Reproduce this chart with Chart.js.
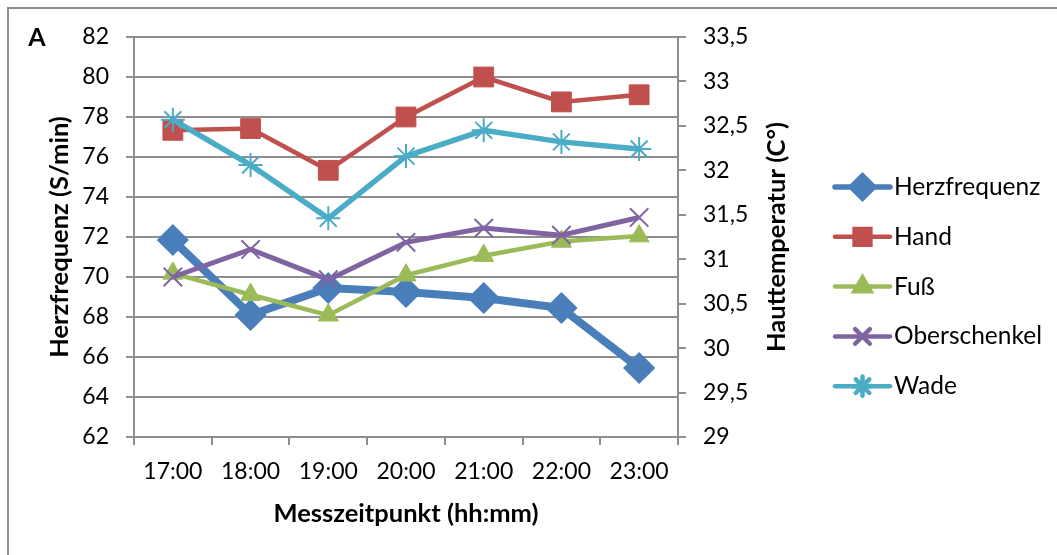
<!DOCTYPE html>
<html lang="de">
<head>
<meta charset="utf-8">
<title>Herzfrequenz und Hauttemperatur</title>
<script src="https://cdn.jsdelivr.net/npm/chart.js@4/dist/chart.umd.min.js"></script>
<style>
  html, body { margin: 0; padding: 0; background: #fff; }
  #wrap { width: 1057px; height: 555px; position: relative; }
</style>
</head>
<body>
<div id="wrap"><canvas id="chart"></canvas></div>
<script>
// Messzeitpunkte und Messwerte
const zeitpunkte = ['17:00', '18:00', '19:00', '20:00', '21:00', '22:00', '23:00'];
const herzfrequenz = [71.85, 68.1, 69.45, 69.25, 68.95, 68.45, 65.45];   // S/min, linke Achse
const hand = [32.45, 32.47, 32.0, 32.6, 33.05, 32.77, 32.85];            // °C, rechte Achse
const fuss = [30.84, 30.6, 30.37, 30.82, 31.04, 31.2, 31.26];
const oberschenkel = [30.8, 31.11, 30.77, 31.19, 31.35, 31.27, 31.47];
const wade = [32.57, 32.06, 31.46, 32.16, 32.45, 32.32, 32.24];

// Achsenbereiche
const hfMin = 62, hfMax = 82, hfStep = 2;
const tempMin = 29, tempMax = 33.5, tempStep = 0.5;

const FAMILY = 'Lato, "Open Sans", sans-serif';
const GRID = '#8e8e8e';

// Rahmen, Panelbuchstabe, rechter Achsentitel und Legende
const chartDecor = {
    id: 'chartDecor',
    beforeDraw(chart) {
        const ctx = chart.ctx;
        ctx.save();
        ctx.fillStyle = '#fff';
        ctx.fillRect(0, 0, chart.width, chart.height);
        ctx.strokeStyle = GRID;
        ctx.lineWidth = 2;
        ctx.strokeRect(8, 8, chart.width + 20, chart.height + 20);
        ctx.restore();
    },
    afterDraw(chart) {
        const ctx = chart.ctx;
        const area = chart.chartArea;
        ctx.save();
        ctx.fillStyle = '#000';
        ctx.textAlign = 'center';
        ctx.textBaseline = 'middle';
        ctx.font = 'bold 25px ' + FAMILY;
        ctx.fillText('A', 37, 38);

        ctx.translate(777, (area.top + area.bottom) / 2);
        ctx.rotate(-Math.PI / 2);
        ctx.font = 'bold 25.5px ' + FAMILY;
        ctx.fillText('Hauttemperatur (C°)', 0, 0);
        ctx.restore();

        // Legende: Linie mit Markierung, daneben der Name
        const x0 = 835, x1 = 890, top = 187, gap = 49.8;
        chart.data.datasets.forEach((ds, i) => {
            const y = top + i * gap;
            ctx.save();
            ctx.strokeStyle = ds.borderColor;
            ctx.fillStyle = ds.pointBackgroundColor;
            ctx.lineCap = 'round';
            ctx.lineWidth = i === 0 ? 5.5 : 4.5;
            ctx.beginPath();
            ctx.moveTo(x0, y);
            ctx.lineTo(x1, y);
            ctx.stroke();
            ctx.strokeStyle = ds.pointBorderColor;
            Chart.helpers.drawPoint(ctx, {
                pointStyle: ds.pointStyle,
                radius: ds.pointRadius * 0.8,
                rotation: 0,
                borderWidth: ds.pointBorderWidth
            }, (x0 + x1) / 2, y);
            ctx.fillStyle = '#000';
            ctx.font = '24.5px ' + FAMILY;
            ctx.textAlign = 'left';
            ctx.textBaseline = 'middle';
            ctx.fillText(ds.label, x1 + 4, y);
            ctx.restore();
        });
    }
};

function serie(label, data, color, axis, lineWidth, style, radius, pointBorder, order) {
    return {
        label, data,
        yAxisID: axis,
        borderColor: color,
        backgroundColor: color,
        borderWidth: lineWidth,
        pointStyle: style,
        pointRadius: radius,
        pointHoverRadius: radius,
        pointBackgroundColor: color,
        pointBorderColor: color,
        pointBorderWidth: pointBorder,
        tension: 0,
        order
    };
}

const tickFont = { family: FAMILY, size: 23 };
const titleFont = { family: FAMILY, size: 25.5, weight: 'bold' };

new Chart(document.getElementById('chart'), {
    type: 'line',
    data: {
        labels: zeitpunkte,
        datasets: [
            serie('Herzfrequenz', herzfrequenz, '#4a7ebb', 'y', 8, 'rectRot', 14, 3, 5),
            serie('Hand', hand, '#c0504d', 'y1', 4.5, 'rect', 14, 1, 4),
            serie('Fuß', fuss, '#9bbb59', 'y1', 4.5, 'triangle', 11.5, 1, 3),
            serie('Oberschenkel', oberschenkel, '#8064a2', 'y1', 5, 'crossRot', 13, 2, 2),
            serie('Wade', wade, '#4bacc6', 'y1', 5.5, 'star', 12, 2, 1)
        ]
    },
    options: {
        responsive: true,
        maintainAspectRatio: false,
        animation: false,
        layout: { padding: { top: 37, left: 0, right: 0, bottom: 0 } },
        plugins: {
            legend: { display: false },
            tooltip: { enabled: false }
        },
        scales: {
            x: {
                offset: true,
                grid: { offset: true, drawOnChartArea: false, tickLength: 8, color: GRID, lineWidth: 2 },
                border: { color: GRID, width: 2 },
                ticks: { font: tickFont, color: '#000', padding: 13, maxRotation: 0 },
                title: {
                    display: true, text: 'Messzeitpunkt (hh:mm)', font: titleFont, color: '#000',
                    padding: { top: 0, bottom: 26 }
                },
                afterFit: s => { s.height = 118; }
            },
            y: {
                position: 'left',
                min: hfMin, max: hfMax,
                ticks: { stepSize: hfStep, font: tickFont, color: '#000', padding: 17 },
                grid: { color: GRID, lineWidth: 2, tickLength: 8 },
                border: { color: GRID, width: 2 },
                title: {
                    display: true, text: 'Herzfrequenz (S/min)', font: titleFont, color: '#000',
                    padding: { top: 44, bottom: 0 }
                },
                afterFit: s => { s.width = 134; }
            },
            y1: {
                position: 'right',
                min: tempMin, max: tempMax,
                ticks: {
                    stepSize: tempStep, font: tickFont, color: '#000', padding: 17,
                    callback: v => String(v).replace('.', ',')
                },
                grid: { drawOnChartArea: false, color: GRID, lineWidth: 2, tickLength: 8 },
                border: { color: GRID, width: 2 },
                afterFit: s => { s.width = 379; }
            }
        }
    },
    plugins: [chartDecor]
});
</script>
</body>
</html>
